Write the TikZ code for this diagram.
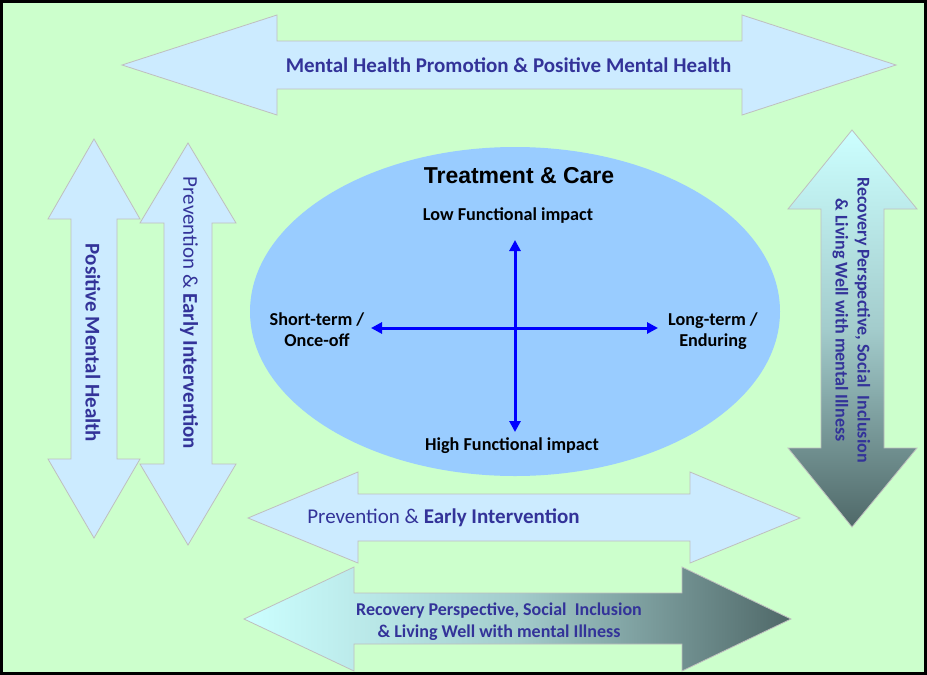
\documentclass[tikz,border=0pt]{standalone}
\usepackage{fontspec}
\setmainfont{Carlito}
\newfontfamily\arialf{Liberation Sans}
\usetikzlibrary{arrows.meta,shapes.geometric}
\definecolor{bg}{HTML}{CCFFCC}
\definecolor{arrowfill}{HTML}{CCEBFF}
\definecolor{arrowline}{HTML}{BFBFBF}
\definecolor{txt}{HTML}{333399}
\definecolor{ell}{HTML}{99CCFF}
\definecolor{crossblue}{HTML}{0000FF}
\definecolor{gradlight}{HTML}{CCFFFF}
\definecolor{gradmid}{HTML}{A3CCCC}
\definecolor{graddark}{HTML}{4F6868}
\tikzset{
  fatarrow/.style={fill=arrowfill,draw=arrowline,line width=0.8pt,line join=miter},
  gradarrow/.style={draw=arrowline,line width=0.8pt,line join=miter},
  bigtext/.style={text=txt,font=\fontsize{21}{24}\selectfont\bfseries,inner sep=0pt},
  rectext/.style={text=txt,font=\fontsize{18}{22}\selectfont\bfseries,align=center,inner sep=0pt},
  elltext/.style={text=black,font=\fontsize{18.2}{21}\selectfont\bfseries,align=center,inner sep=0pt},
  crossarrow/.style={draw=crossblue,line width=3pt,{Triangle[length=11pt,width=11pt]}-{Triangle[length=11pt,width=11pt]}}
}
\begin{document}
\begin{tikzpicture}[x=1pt,y=-1pt]
\useasboundingbox (0,0) rectangle (927,675);
% background frame
\draw[fill=bg,draw=black,line width=3pt] (1.5,1.5) rectangle (925.5,673.5);
% top arrow
\draw[fatarrow] (122,65) -- (277,15) -- (277,41) -- (742,41) -- (742,15) -- (896,65)
  -- (742,115) -- (742,89) -- (277,89) -- (277,115) -- cycle;
\node[bigtext] (toptext) at (508.5,65) {Mental Health Promotion \& Positive Mental Health};
% left arrow 1
\draw[fatarrow] (94,139) -- (140,219) -- (117,219) -- (117,459) -- (140,459) -- (94,538)
  -- (48,459) -- (71,459) -- (71,219) -- (48,219) -- cycle;
\node[bigtext,rotate=-90] (pmh) at (93,343) {Positive Mental Health};
% left arrow 2
\draw[fatarrow] (188,143) -- (236,223) -- (212,223) -- (212,464) -- (236,464) -- (188,545)
  -- (140,464) -- (164,464) -- (164,223) -- (140,223) -- cycle;
\node[bigtext,rotate=-90] (pei) at (189,313) {{\mdseries Prevention \&} Early Intervention};
% right arrow (gradient)
\shadedraw[gradarrow,top color=gradlight,bottom color=graddark,middle color=gradmid]
  (852,130) -- (917,209) -- (884,209) -- (884,448) -- (917,448) -- (852,527)
  -- (788,448) -- (821,448) -- (821,209) -- (788,209) -- cycle;
\node[rectext,rotate=-90] (recv) at (851.5,320) {Recovery Perspective, Social\ \ Inclusion\\\& Living Well with mental Illness};
% bottom arrow 1
\draw[fatarrow] (248,518) -- (358,472) -- (358,494) -- (690,494) -- (690,472) -- (800,518)
  -- (690,563) -- (690,541) -- (358,541) -- (358,563) -- cycle;
\node[bigtext] (peib) at (443.5,518) {{\mdseries Prevention \&} Early Intervention};
% bottom arrow 2 (gradient)
\shadedraw[gradarrow,left color=gradlight,right color=graddark,middle color=gradmid]
  (244,619) -- (354,567) -- (354,593) -- (682,593) -- (682,567) -- (791,619)
  -- (682,671) -- (682,644) -- (354,644) -- (354,671) -- cycle;
\node[rectext] (recb) at (499,621.5) {Recovery Perspective, Social\ \ Inclusion\\\& Living Well with mental Illness};
% ellipse
\node[ellipse,fill=ell,minimum width=530pt,minimum height=329pt,inner sep=0pt] (ell) at (515,311.5) {};
\node[text=black,font=\arialf\fontsize{23}{27}\selectfont\bfseries,inner sep=0pt] (title) at (519,176) {Treatment \& Care};
\node[elltext] (low) at (508,216) {Low Functional impact};
\node[elltext] (high) at (512,446) {High Functional impact};
\node[elltext] (short) at (317,330) {Short-term /\\Once-off};
\node[elltext] (long) at (713,331) {Long-term /\\Enduring};
% cross
\coordinate (ctop) at (515,240);
\coordinate (cbot) at (515,432);
\coordinate (cleft) at (371,328);
\coordinate (cright) at (658,328);
\draw[crossarrow] (cbot) -- (ctop);
\draw[crossarrow] (cleft) -- (cright);
\end{tikzpicture}
\end{document}
